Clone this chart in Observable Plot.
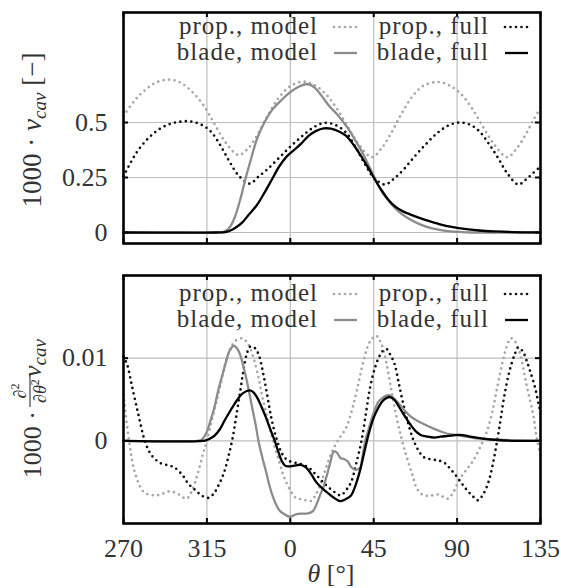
<!DOCTYPE html>
<html><head><meta charset="utf-8">
<script src="https://cdn.jsdelivr.net/npm/d3@7"></script>
<script src="https://cdn.jsdelivr.net/npm/@observablehq/plot@0.6"></script>
<style>
body{margin:0;background:#fff;}
#chart svg{display:block;}
</style></head><body><div id="chart"></div>
<script>
// ---- ticks & labels ----
const xTicks = [-90, -45, 0, 45, 90, 135];
const xTickLabels = ["270", "315", "0", "45", "90", "135"];
const topYTicks = [0, 0.25, 0.5];
const topYTickLabels = ["0", "0.25", "0.5"];
const botYTicks = [0, 0.01];
const botYTickLabels = ["0", "0.01"];
const seriesNames = ["prop., model", "prop., full", "blade, model", "blade, full"];

// ---- top panel: 1000·v_cav  [theta (deg, 270..360 written as -90..0), value] ----
const topPropModel = [[-90,0.53],[-84,0.60],[-78,0.65],[-72,0.683],[-65,0.695],[-59,0.68],[-53,0.64],[-47,0.58],[-41,0.495],[-35,0.41],[-28,0.352],[-23,0.38],[-18,0.44],[-12,0.535],[-6,0.615],[0,0.665],[7,0.686],[13,0.67],[19,0.63],[25,0.565],[31,0.48],[37,0.40],[44,0.342],[49,0.38],[54,0.445],[60,0.54],[66,0.62],[72,0.668],[80,0.684],[86,0.668],[92,0.63],[98,0.565],[104,0.48],[110,0.40],[117,0.342],[122,0.38],[127,0.445],[131,0.51],[135,0.565]];
const topPropFull = [[-90,0.255],[-86,0.32],[-82,0.375],[-77,0.425],[-72,0.462],[-66,0.49],[-60,0.503],[-54,0.505],[-48,0.49],[-43,0.46],[-38,0.40],[-33,0.325],[-28,0.26],[-22,0.222],[-17,0.255],[-12,0.29],[-6,0.34],[0,0.39],[6,0.435],[12,0.475],[18,0.498],[24,0.49],[30,0.455],[35,0.39],[40,0.315],[45,0.25],[51,0.218],[56,0.245],[61,0.285],[67,0.345],[73,0.40],[79,0.45],[85,0.485],[91,0.5],[97,0.49],[102,0.46],[107,0.405],[112,0.34],[117,0.27],[123,0.218],[127,0.24],[131,0.27],[135,0.30]];
const topBladeModel = [[-90,0],[-60,0],[-40,0],[-36,0.003],[-33,0.02],[-30,0.068],[-27,0.15],[-24,0.25],[-21,0.34],[-18,0.425],[-14,0.50],[-10,0.555],[-5,0.60],[0,0.638],[4,0.66],[9,0.675],[13,0.66],[17,0.62],[21,0.575],[26,0.53],[31,0.475],[35,0.42],[38.5,0.37],[42,0.31],[45,0.258],[48,0.205],[52,0.155],[56,0.115],[60,0.085],[65,0.058],[70,0.037],[76,0.02],[82,0.01],[88,0.004],[95,0.001],[105,0],[135,0]];
const topBladeFull = [[-90,0],[-40,0],[-35,0.002],[-32,0.01],[-29,0.025],[-26,0.045],[-22,0.085],[-18,0.125],[-14,0.18],[-10,0.24],[-6,0.30],[-2,0.345],[2,0.375],[6,0.405],[10,0.44],[14,0.462],[18,0.473],[22,0.472],[26,0.46],[30,0.44],[34,0.40],[38,0.35],[42,0.295],[45,0.25],[49,0.195],[53,0.148],[57,0.115],[61,0.095],[66,0.078],[72,0.06],[78,0.044],[84,0.03],[90,0.021],[96,0.014],[102,0.009],[110,0.005],[120,0.002],[135,0.001]];

// ---- bottom panel: 1000·d²v_cav/dθ² ----
const botPropModel = [[-90,0.0056],[-87,0.0],[-84,-0.0037],[-79,-0.0062],[-73,-0.0066],[-69,-0.0064],[-65,-0.0061],[-60,-0.0065],[-56,-0.007],[-53,-0.006],[-50,-0.004],[-47,-0.0015],[-45,0],[-42,0.0028],[-39,0.0055],[-34,0.0101],[-30,0.012],[-26,0.0124],[-23,0.0118],[-20.5,0.0105],[-17,0.0075],[-15,0.0052],[-12,0.0025],[-9.4,0],[-6,-0.0025],[-3.5,-0.0043],[0,-0.006],[3,-0.0069],[7,-0.0071],[11,-0.0073],[14,-0.0064],[17,-0.0048],[20,-0.0028],[23.4,-0.0009],[27,0.0005],[30,0.0015],[33,0.0035],[36,0.0062],[40,0.0101],[43,0.012],[46.3,0.0127],[49,0.0118],[51.6,0.0097],[54,0.0068],[57,0.0032],[60,0.0003],[63,-0.0021],[66,-0.0042],[68.4,-0.0058],[72,-0.0066],[76,-0.0066],[80,-0.0065],[85,-0.007],[88,-0.0062],[91,-0.0048],[95,-0.0035],[98.4,-0.0025],[102,-0.001],[106,0.0011],[109,0.0035],[111.6,0.0064],[114.5,0.0095],[117.2,0.0117],[119,0.0124],[121,0.0121],[124,0.0105],[127.4,0.0068],[131,0.0032],[133,0.0003],[135,-0.0017]];
const botPropFull = [[-90,0.0102],[-88,0.0092],[-85.6,0.0068],[-82,0.0032],[-78.5,0],[-75,-0.0017],[-70,-0.0027],[-65,-0.003],[-62,-0.0033],[-58,-0.0042],[-55,-0.0052],[-51,-0.006],[-48,-0.0066],[-44,-0.0069],[-41,-0.0063],[-39,-0.0055],[-36,-0.004],[-33.5,-0.002],[-31,0.0005],[-29,0.0032],[-27,0.006],[-25.3,0.0085],[-23.5,0.0105],[-21.6,0.0114],[-19,0.0112],[-16.9,0.0103],[-14.5,0.008],[-12.2,0.0052],[-10,0.0025],[-7.5,0.0003],[-5,-0.0013],[-2.8,-0.0021],[0,-0.0025],[3.75,-0.0027],[7,-0.0029],[10.3,-0.0033],[13,-0.0039],[16,-0.0046],[19,-0.0053],[21.6,-0.0058],[24.5,-0.0063],[27.2,-0.0066],[30,-0.006],[32.8,-0.005],[35.5,-0.0028],[38.4,0],[41,0.0036],[43,0.0064],[45.5,0.0087],[47.8,0.0101],[50,0.0109],[52,0.0111],[54,0.0104],[56.25,0.0093],[58.5,0.007],[61,0.0044],[64,0.0018],[66.6,0],[69.5,-0.0013],[72.2,-0.002],[77.8,-0.0023],[80.5,-0.0024],[83.4,-0.0027],[86,-0.0033],[89,-0.0041],[92,-0.005],[94.7,-0.0058],[98,-0.0066],[101.25,-0.0072],[104,-0.0065],[106.9,-0.005],[109.3,-0.0028],[111.6,0],[113.5,0.0026],[115.3,0.0052],[118,0.0082],[121,0.0104],[123,0.0113],[125.5,0.0108],[127.5,0.0097],[129.3,0.0085],[132,0.0065],[134,0.0044],[135,0.0035]];
const botBladeModel = [[-90,0],[-50,0],[-48,0.0001],[-45,0.0011],[-43,0.0025],[-41,0.004],[-39,0.006],[-36.6,0.008],[-34.5,0.0097],[-32.8,0.0109],[-30.4,0.0115],[-28.8,0.0112],[-27.2,0.0105],[-25.3,0.009],[-23.4,0.0072],[-21,0.0045],[-18.75,0.002],[-17,-0.0002],[-15,-0.0021],[-13,-0.0038],[-11.25,-0.0054],[-9.5,-0.0067],[-7.5,-0.0078],[-5.5,-0.0085],[-3.75,-0.0088],[0,-0.0092],[3,-0.0089],[6,-0.0088],[9,-0.0088],[12.2,-0.0085],[14.5,-0.0075],[16,-0.0066],[18,-0.0055],[19.7,-0.0042],[21.5,-0.0027],[23.5,-0.0013],[25,-0.0014],[27.2,-0.0021],[29,-0.0022],[31,-0.0025],[33,-0.0032],[35,-0.0035],[37.5,-0.0033],[39,-0.0018],[40.3,-0.0001],[42,0.0012],[45,0.0034],[47.5,0.0047],[49.7,0.0052],[52,0.0055],[53.8,0.0055],[56,0.0051],[59,0.0044],[62,0.0036],[64.7,0.003],[68,0.0025],[72.2,0.002],[77,0.0015],[81.6,0.0011],[86,0.0008],[90,0.0007],[95,0.0005],[100.3,0.0003],[108,0.0002],[115,0.0001],[135,0]];
const botBladeFull = [[-90,0],[-47,0],[-45,0.0001],[-43,0.0003],[-41,0.0006],[-38,0.0014],[-35.6,0.0024],[-33,0.0034],[-30,0.0045],[-27.5,0.0053],[-25.3,0.0058],[-22.1,0.0061],[-20,0.0059],[-17.8,0.0052],[-15.5,0.0041],[-13.1,0.0028],[-10.8,0.0014],[-8.4,0],[-6.5,-0.0013],[-4.7,-0.0024],[-2.8,-0.003],[-0.9,-0.0031],[2,-0.003],[5.6,-0.0029],[8.4,-0.0032],[11.2,-0.004],[14,-0.005],[17,-0.0057],[19.7,-0.0062],[23,-0.0068],[26.8,-0.0073],[29.5,-0.0071],[32.8,-0.0066],[35,-0.0055],[37.5,-0.0037],[39.5,-0.0018],[41.25,-0.0001],[43,0.0014],[45,0.0028],[47.5,0.004],[49.7,0.0048],[52,0.0052],[53.8,0.0053],[56,0.005],[59,0.004],[62,0.0029],[64.7,0.002],[67.5,0.0012],[70.3,0.0007],[74,0.0005],[77.8,0.0004],[81,0.0005],[85.3,0.0006],[89,0.0007],[93,0.0007],[97,0.0005],[100.3,0.0004],[106,0.0002],[111.6,0.0001],[121,0],[135,0]];

// ---- styling ----
const FONT = "'Liberation Serif', 'Times New Roman', serif";
const TEXT = "#333";
const styles = [
  {stroke: "#a6a6a6", strokeWidth: 2.7, strokeDasharray: "0 5.5", strokeLinecap: "round"},
  {stroke: "#111", strokeWidth: 2.7, strokeDasharray: "0 5.5", strokeLinecap: "round"},
  {stroke: "#8c8c8c", strokeWidth: 2.3},
  {stroke: "#000", strokeWidth: 2.3}
];
const W = 561, ML = 123, MR = 21;

function panel({height, marginTop, marginBottom, yDomain, yTicks, yTickLabels, data, showX}) {
  const frameW = W - ML - MR, frameH = height - marginTop - marginBottom;
  const tk = {stroke: "#000", strokeWidth: 2};
  const marks = [
    Plot.gridX(xTicks.slice(1, -1), {stroke: "#bdbdbd", strokeOpacity: 1, strokeWidth: 1.2}),
    Plot.gridY(yTicks, {stroke: "#bdbdbd", strokeOpacity: 1, strokeWidth: 1.2}),
    ...data.map((d, i) => Plot.line(d, {x: p => p[0], y: p => p[1], curve: "catmull-rom", ...styles[i]})),
    Plot.tickX(xTicks, {x: d => d, insetTop: frameH - 5, ...tk}),
    Plot.tickX(xTicks, {x: d => d, insetBottom: frameH - 5, ...tk}),
    Plot.tickY(yTicks, {y: d => d, insetRight: frameW - 5, ...tk}),
    Plot.tickY(yTicks, {y: d => d, insetLeft: frameW - 5, ...tk}),
    Plot.frame({stroke: "#000", strokeWidth: 2.6}),
    Plot.axisY(yTicks, {tickSize: 0, tickPadding: 16, tickFormat: d => yTickLabels[yTicks.indexOf(d)], fontSize: 26, label: null})
  ];
  if (showX) marks.push(Plot.axisX(xTicks, {tickSize: 0, tickPadding: 15, tickFormat: d => xTickLabels[xTicks.indexOf(d)], fontSize: 26, label: null}));
  return Plot.plot({
    width: W, height, marginLeft: ML, marginRight: MR, marginTop, marginBottom,
    x: {domain: [-90, 135], axis: showX ? undefined : null},
    y: {domain: yDomain},
    style: {fontFamily: FONT, fontSize: "26px", color: TEXT, background: "white", overflow: "visible"},
    marks
  });
}

function legend(svg, row1, row2) {
  const s = d3.select(svg);
  const g = s.append("g").attr("font-family", FONT).attr("font-size", 25).attr("fill", TEXT).attr("letter-spacing", "1px");
  const cols = [{tx: 318, l0: 334, l1: 357}, {tx: 489, l0: 505, l1: 528}];
  const rows = [row1, row2];
  let k = 0;
  rows.forEach(by => {
    cols.forEach(c => {
      const st = styles[k];
      g.append("text").attr("x", c.tx).attr("y", by).attr("text-anchor", "end").text(seriesNames[k]);
      const ln = g.append("line").attr("x1", c.l0).attr("x2", c.l1).attr("y1", by - 7).attr("y2", by - 7)
        .attr("stroke", st.stroke).attr("stroke-width", st.strokeWidth);
      if (st.strokeDasharray) ln.attr("stroke-dasharray", st.strokeDasharray).attr("stroke-linecap", "round");
      k++;
    });
  });
}

const chart = document.getElementById("chart");
const topSvg = panel({height: 250, marginTop: 12, marginBottom: 7, yDomain: [-0.05, 1.0], yTicks: topYTicks, yTickLabels: topYTickLabels,
  data: [topPropModel, topPropFull, topBladeModel, topBladeFull], showX: false});
const botSvg = panel({height: 338, marginTop: 25, marginBottom: 65, yDomain: [-0.01, 0.02], yTicks: botYTicks, yTickLabels: botYTickLabels,
  data: [botPropModel, botPropFull, botBladeModel, botBladeFull], showX: true});
chart.appendChild(topSvg);
chart.appendChild(botSvg);

legend(topSvg, 34, 60);
legend(botSvg, 51, 77);

// y label, top panel
{
  const g = d3.select(topSvg).append("g").attr("transform", "translate(41,130) rotate(-90)")
    .attr("font-family", FONT).attr("font-size", 27).attr("fill", TEXT);
  const t = g.append("text").attr("text-anchor", "middle");
  t.append("tspan").text("1000\u00a0\u00b7\u00a0");
  t.append("tspan").attr("font-style", "italic").text("v");
  t.append("tspan").attr("font-style", "italic").attr("font-size", 19).attr("dy", 5).text("cav");
  t.append("tspan").attr("dy", -5).text("\u00a0[\u2212]");
}
// y label, bottom panel (fixed layout in rotated frame)
{
  const g = d3.select(botSvg).append("g").attr("transform", "translate(41,146) rotate(-90)")
    .attr("font-family", FONT).attr("font-size", 26).attr("fill", TEXT);
  g.append("text").attr("x", -15).attr("text-anchor", "end").text("1000\u00a0\u00b7");
  const num = g.append("text").attr("x", 5).attr("y", -15).attr("text-anchor", "middle").attr("font-size", 18);
  num.append("tspan").attr("font-style", "italic").text("\u2202");
  num.append("tspan").attr("font-size", 12).attr("dy", -7).text("2");
  const den = g.append("text").attr("x", 5).attr("y", 5).attr("text-anchor", "middle").attr("font-size", 18);
  den.append("tspan").attr("font-style", "italic").text("\u2202\u03b8");
  den.append("tspan").attr("font-size", 12).attr("dy", -7).text("2");
  g.append("line").attr("x1", -11).attr("x2", 22).attr("y1", -11).attr("y2", -11).attr("stroke", TEXT).attr("stroke-width", 1.1);
  const t2 = g.append("text").attr("x", 38).attr("font-style", "italic");
  t2.append("tspan").text("v");
  t2.append("tspan").attr("font-size", 19).attr("dy", 5).text("cav");
}
// x label
{
  const t = d3.select(botSvg).append("text").attr("x", 331).attr("y", 332).attr("text-anchor", "middle")
    .attr("font-family", FONT).attr("font-size", 26).attr("fill", TEXT);
  t.append("tspan").attr("font-style", "italic").text("\u03b8");
  t.append("tspan").text("\u00a0[\u00b0]");
}
</script></body></html>
